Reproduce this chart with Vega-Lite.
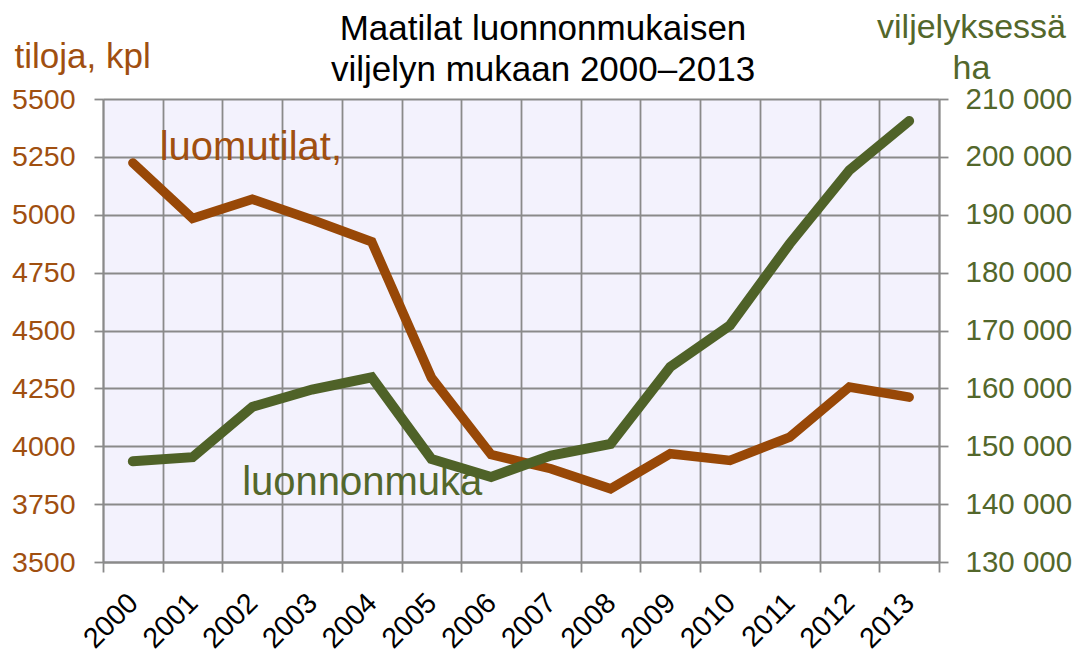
{
  "$schema": "https://vega.github.io/schema/vega-lite/v6.json",
  "autosize": {"type": "none"},
  "width": 836,
  "height": 463,
  "padding": {"left": 103, "top": 99, "right": 139, "bottom": 93},
  "background": "white",
  "view": {"fill": "#F3F2FD", "stroke": null},
  "config": {
    "font": "Liberation Sans",
    "axis": {
      "domainColor": "#8A8A8A", "domainWidth": 1.8,
      "tickColor": "#8A8A8A", "tickWidth": 1.8,
      "gridColor": "#8A8A8A", "gridWidth": 1.8, "gridOpacity": 1,
      "labelFont": "Liberation Sans", "titleFont": "Liberation Sans",
      "titleFontWeight": "normal"
    }
  },
  "title": {
    "text": ["Maatilat luonnonmukaisen", "viljelyn mukaan 2000–2013"],
    "font": "Liberation Sans",
    "fontSize": 35,
    "fontWeight": "normal",
    "color": "#000000",
    "lineHeight": 41,
    "anchor": "middle",
    "frame": "group",
    "baseline": "alphabetic",
    "dx": 22,
    "dy": 115,
    "offset": 10
  },
  "data": {
    "values": [
      {"year": 2000, "farms": 5224, "area": 147400},
      {"year": 2001, "farms": 4984, "area": 148100},
      {"year": 2002, "farms": 5067, "area": 156800},
      {"year": 2003, "farms": 4978, "area": 159800},
      {"year": 2004, "farms": 4883, "area": 161900},
      {"year": 2005, "farms": 4296, "area": 147800},
      {"year": 2006, "farms": 3964, "area": 144700},
      {"year": 2007, "farms": 3903, "area": 148400},
      {"year": 2008, "farms": 3816, "area": 150400},
      {"year": 2009, "farms": 3968, "area": 163700},
      {"year": 2010, "farms": 3939, "area": 170900},
      {"year": 2011, "farms": 4039, "area": 185000},
      {"year": 2012, "farms": 4256, "area": 197700},
      {"year": 2013, "farms": 4212, "area": 206200}
    ]
  },
  "encoding": {
    "x": {
      "field": "year",
      "type": "quantitative",
      "scale": {"domain": [1999.5, 2013.5], "nice": false, "zero": false},
      "axis": {
        "title": null,
        "values": [1999.5, 2000.5, 2001.5, 2002.5, 2003.5, 2004.5, 2005.5, 2006.5, 2007.5, 2008.5, 2009.5, 2010.5, 2011.5, 2012.5, 2013.5],
        "labelExpr": "datum.value < 2013 ? '' + (datum.value + 0.5) : ''",
        "labelOffset": 29.86,
        "labelAngle": -45,
        "labelAlign": "right",
        "labelBaseline": "middle",
        "labelFontSize": 28.5,
        "labelColor": "#000000",
        "labelPadding": 26,
        "labelFlush": false,
        "labelOverlap": false,
        "labelBound": false,
        "tickSize": 10,
        "grid": true
      }
    }
  },
  "layer": [
    {
      "encoding": {
        "y": {
          "field": "farms",
          "type": "quantitative",
          "scale": {"domain": [3500, 5500], "nice": false, "zero": false},
          "axis": {
            "orient": "left",
            "title": "tiloja, kpl",
            "titleAngle": 0,
            "titleAlign": "left",
            "titleBaseline": "alphabetic",
            "titleX": -89,
            "titleY": -32,
            "titleFontSize": 35,
            "titleColor": "#A04F10",
            "values": [3500, 3750, 4000, 4250, 4500, 4750, 5000, 5250, 5500],
            "format": "d",
            "labelFontSize": 28.5,
            "labelColor": "#A04F10",
            "labelPadding": 19,
            "labelFlush": false,
            "labelOverlap": false,
            "tickSize": 9,
            "grid": true
          }
        }
      },
      "layer": [
        {
          "mark": {"type": "line", "color": "#984807", "strokeWidth": 9.5, "strokeCap": "round"}
        },
        {
          "data": {"values": [{"year": 2000.45, "farms": 5236, "label": "luomutilat,"}]},
          "mark": {"type": "text", "align": "left", "baseline": "alphabetic", "fontSize": 40, "color": "#A04F10", "font": "Liberation Sans"},
          "encoding": {"text": {"field": "label"}}
        }
      ]
    },
    {
      "encoding": {
        "y": {
          "field": "area",
          "type": "quantitative",
          "scale": {"domain": [130000, 210000], "nice": false, "zero": false},
          "axis": {
            "orient": "right",
            "title": ["viljelyksessä", "ha"],
            "titleAngle": 0,
            "titleAlign": "center",
            "titleBaseline": "alphabetic",
            "titleX": 32,
            "titleY": -61.5,
            "titleLineHeight": 41,
            "titleFontSize": 34,
            "titleColor": "#53672B",
            "values": [130000, 140000, 150000, 160000, 170000, 180000, 190000, 200000, 210000],
            "labelExpr": "replace(format(datum.value, ','), ',', ' ')",
            "labelFontSize": 29.5,
            "labelColor": "#53672B",
            "labelPadding": 17,
            "labelFlush": false,
            "labelOverlap": false,
            "tickSize": 9,
            "grid": false
          }
        }
      },
      "layer": [
        {
          "data": {"values": [{"year": 2001.83, "area": 141600, "label": "luonnonmuka"}]},
          "mark": {"type": "text", "align": "left", "baseline": "alphabetic", "fontSize": 40, "color": "#53672B", "font": "Liberation Sans"},
          "encoding": {"text": {"field": "label"}}
        },
        {
          "mark": {"type": "line", "color": "#4F6228", "strokeWidth": 10, "strokeCap": "round"}
        }
      ]
    }
  ],
  "resolve": {"scale": {"y": "independent"}}
}
